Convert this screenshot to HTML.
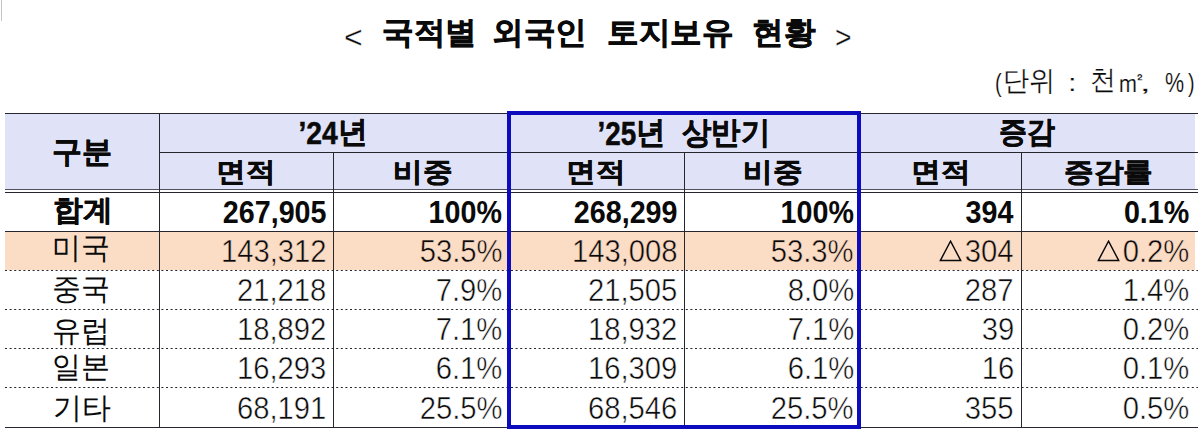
<!DOCTYPE html>
<html><head><meta charset="utf-8"><title>국적별 외국인 토지보유 현황</title><style>
html,body{margin:0;padding:0;background:#fff;}
body{width:1200px;height:442px;position:relative;overflow:hidden;font-family:"Liberation Sans",sans-serif;color:#0a0a0a;}
.t,.n{position:absolute;white-space:nowrap;line-height:1;}
.t{transform-origin:0 0;}
.n{transform-origin:100% 0;}
.dg{display:inline-block;transform:translateY(2.5px) scale(0.94,1.05);transform-origin:100% 100%;}
.n svg path{stroke:#0a0a0a;}
svg.bg{position:absolute;left:0;top:0;}
</style></head><body>
<svg class="bg" width="1200" height="442" viewBox="0 0 1200 442"><rect x="5" y="114" width="1190" height="75" fill="#e0e3f7"/><rect x="5" y="232" width="1190" height="38" fill="#fbddc6"/><rect x="5" y="113" width="1193" height="1" fill="#26262e"/><rect x="159" y="152" width="1039" height="1" fill="#26262e"/><rect x="5" y="189" width="1193" height="1" fill="#50505c"/><rect x="5" y="192" width="1193" height="1" fill="#26262e"/><rect x="5" y="231" width="1193" height="1" fill="#26262e"/><line x1="5" y1="270.5" x2="1198" y2="270.5" stroke="#26262e" stroke-width="1.2" stroke-dasharray="2 2.6"/><line x1="5" y1="309.5" x2="1198" y2="309.5" stroke="#26262e" stroke-width="1.2" stroke-dasharray="2 2.6"/><line x1="5" y1="348.5" x2="1198" y2="348.5" stroke="#26262e" stroke-width="1.2" stroke-dasharray="2 2.6"/><line x1="5" y1="387.5" x2="1198" y2="387.5" stroke="#26262e" stroke-width="1.2" stroke-dasharray="2 2.6"/><rect x="5" y="427" width="1193" height="1" fill="#26262e"/><rect x="159" y="113" width="1" height="315" fill="#26262e"/><rect x="333" y="152" width="1" height="276" fill="#26262e"/><rect x="684" y="152" width="1" height="276" fill="#26262e"/><rect x="1021" y="152" width="1" height="276" fill="#26262e"/><rect x="509" y="113" width="350" height="314" fill="none" stroke="#0c0cbe" stroke-width="4"/><rect x="1" y="0" width="1" height="21" fill="#c4c4c4"/></svg>
<div class="t" style="left:344.0px;top:21.4px;font-size:32.00px;-webkit-text-stroke:0.4px #fff;transform:scaleX(1.000)">&lt;</div>
<div class="t" style="left:382.0px;top:17.4px;font-size:31.10px;font-weight:bold;-webkit-text-stroke:0.6px #0a0a0a;transform:scaleX(1.019)">국적별</div>
<div class="t" style="left:492.0px;top:17.4px;font-size:31.10px;font-weight:bold;-webkit-text-stroke:0.6px #0a0a0a;transform:scaleX(1.019)">외국인</div>
<div class="t" style="left:607.0px;top:17.4px;font-size:31.10px;font-weight:bold;-webkit-text-stroke:0.6px #0a0a0a;transform:scaleX(1.019)">토지보유</div>
<div class="t" style="left:752.0px;top:17.4px;font-size:31.10px;font-weight:bold;-webkit-text-stroke:0.6px #0a0a0a;transform:scaleX(1.019)">현황</div>
<div class="t" style="left:835.0px;top:21.4px;font-size:32.00px;-webkit-text-stroke:0.4px #fff;transform:scaleX(0.883)">&gt;</div>
<div class="t" style="left:995.0px;top:70.5px;font-size:25.49px;-webkit-text-stroke:0.2px #fff;transform:scaleX(0.781)">(</div>
<div class="t" style="left:1003.0px;top:66.2px;font-size:28.43px;-webkit-text-stroke:0.2px #fff;transform:scaleX(0.935)">단위</div>
<div class="t" style="left:1068.0px;top:71.2px;font-size:24.24px;-webkit-text-stroke:0.2px #fff;transform:scaleX(1.272)">:</div>
<div class="t" style="left:1089.5px;top:67.2px;font-size:26.62px;-webkit-text-stroke:0.2px #fff;transform:scaleX(0.961)">천</div>
<div class="t" style="left:1114.5px;top:66.8px;font-size:30.33px;-webkit-text-stroke:0.2px #fff;transform:scaleX(1.086)">㎡</div>
<div class="t" style="left:1139.0px;top:75.2px;font-size:19.91px;-webkit-text-stroke:0.2px #fff;transform:scaleX(2.252)">,</div>
<div class="t" style="left:1165.0px;top:68.5px;font-size:27.58px;-webkit-text-stroke:0.2px #fff;transform:scaleX(0.779)">%</div>
<div class="t" style="left:1187.5px;top:70.5px;font-size:25.49px;-webkit-text-stroke:0.2px #fff;transform:scaleX(0.772)">)</div>
<div class="t" style="left:51.5px;top:136.8px;font-size:30.01px;font-weight:bold;-webkit-text-stroke:0.5px #0a0a0a;transform:scaleX(1.000)">구분</div>
<div class="t" style="left:296.2px;top:115.8px;font-size:30.40px;font-weight:bold;-webkit-text-stroke:0.5px #0a0a0a;transform:scaleX(0.989)"><span class="dg">’24</span>년</div>
<div class="t" style="left:595.4px;top:117.3px;font-size:31.29px;font-weight:bold;-webkit-text-stroke:0.5px #0a0a0a;transform:scaleX(0.946)"><span class="dg">’25</span>년&nbsp;&nbsp;상반기</div>
<div class="t" style="left:998.8px;top:116.8px;font-size:30.35px;font-weight:bold;-webkit-text-stroke:0.5px #0a0a0a;transform:scaleX(0.933)">증감</div>
<div class="t" style="left:216.2px;top:158.6px;font-size:27.06px;font-weight:bold;-webkit-text-stroke:0.5px #0a0a0a;transform:scaleX(1.097)">면적</div>
<div class="t" style="left:393.0px;top:158.6px;font-size:27.06px;font-weight:bold;-webkit-text-stroke:0.5px #0a0a0a;transform:scaleX(1.097)">비중</div>
<div class="t" style="left:565.6px;top:158.6px;font-size:27.06px;font-weight:bold;-webkit-text-stroke:0.5px #0a0a0a;transform:scaleX(1.097)">면적</div>
<div class="t" style="left:743.0px;top:158.6px;font-size:27.06px;font-weight:bold;-webkit-text-stroke:0.5px #0a0a0a;transform:scaleX(1.097)">비중</div>
<div class="t" style="left:910.6px;top:158.6px;font-size:27.06px;font-weight:bold;-webkit-text-stroke:0.5px #0a0a0a;transform:scaleX(1.097)">면적</div>
<div class="t" style="left:1064.0px;top:158.6px;font-size:27.06px;font-weight:bold;-webkit-text-stroke:0.5px #0a0a0a;transform:scaleX(1.097)">증감률</div>
<div class="t" style="left:52.6px;top:195.6px;font-size:29.17px;font-weight:bold;-webkit-text-stroke:0.35px #0a0a0a;transform:scaleX(1.027)">합계</div>
<div class="t" style="left:52.0px;top:233.3px;font-size:30.21px;transform:scaleX(0.965)">미국</div>
<div class="t" style="left:51.6px;top:274.4px;font-size:30.21px;transform:scaleX(0.965)">중국</div>
<div class="t" style="left:51.8px;top:316.4px;font-size:30.21px;transform:scaleX(0.965)">유럽</div>
<div class="t" style="left:52.0px;top:352.4px;font-size:30.21px;transform:scaleX(0.965)">일본</div>
<div class="t" style="left:53.0px;top:392.6px;font-size:30.21px;transform:scaleX(0.965)">기타</div>
<div class="n" style="right:873.2px;top:198.3px;font-size:30.85px;font-weight:bold;transform:scaleX(0.930)">267,905</div>
<div class="n" style="right:697.8px;top:198.3px;font-size:30.85px;font-weight:bold;transform:scaleX(0.930)">100%</div>
<div class="n" style="right:522.5px;top:198.3px;font-size:30.85px;font-weight:bold;transform:scaleX(0.930)">268,299</div>
<div class="n" style="right:346.2px;top:198.3px;font-size:30.85px;font-weight:bold;transform:scaleX(0.930)">100%</div>
<div class="n" style="right:186.2px;top:198.3px;font-size:30.85px;font-weight:bold;transform:scaleX(0.930)">394</div>
<div class="n" style="right:11.0px;top:198.3px;font-size:30.85px;font-weight:bold;transform:scaleX(0.930)">0.1%</div>
<div class="n" style="right:873.2px;top:237.0px;font-size:30.85px;-webkit-text-stroke:0.5px #fbddc6;transform:scaleX(0.947)">143,312</div>
<div class="n" style="right:697.8px;top:237.0px;font-size:30.85px;-webkit-text-stroke:0.5px #fbddc6;transform:scaleX(0.947)">53.5%</div>
<div class="n" style="right:522.5px;top:237.0px;font-size:30.85px;-webkit-text-stroke:0.5px #fbddc6;transform:scaleX(0.947)">143,008</div>
<div class="n" style="right:346.2px;top:237.0px;font-size:30.85px;-webkit-text-stroke:0.5px #fbddc6;transform:scaleX(0.947)">53.3%</div>
<div class="n" style="right:186.2px;top:237.0px;font-size:30.85px;-webkit-text-stroke:0.5px #fbddc6;transform:scaleX(0.947)"><svg width="24" height="22" viewBox="0 0 24 22" style="vertical-align:0;margin-right:3px"><path d="M12 1.2 L22.8 20.6 L1.2 20.6 Z" fill="none" stroke="#000" stroke-width="1.5"/></svg>304</div>
<div class="n" style="right:11.0px;top:237.0px;font-size:30.85px;-webkit-text-stroke:0.5px #fbddc6;transform:scaleX(0.947)"><svg width="24" height="22" viewBox="0 0 24 22" style="vertical-align:0;margin-right:3px"><path d="M12 1.2 L22.8 20.6 L1.2 20.6 Z" fill="none" stroke="#000" stroke-width="1.5"/></svg>0.2%</div>
<div class="n" style="right:873.2px;top:276.0px;font-size:30.85px;-webkit-text-stroke:0.5px #fff;transform:scaleX(0.947)">21,218</div>
<div class="n" style="right:697.8px;top:276.0px;font-size:30.85px;-webkit-text-stroke:0.5px #fff;transform:scaleX(0.947)">7.9%</div>
<div class="n" style="right:522.5px;top:276.0px;font-size:30.85px;-webkit-text-stroke:0.5px #fff;transform:scaleX(0.947)">21,505</div>
<div class="n" style="right:346.2px;top:276.0px;font-size:30.85px;-webkit-text-stroke:0.5px #fff;transform:scaleX(0.947)">8.0%</div>
<div class="n" style="right:186.2px;top:276.0px;font-size:30.85px;-webkit-text-stroke:0.5px #fff;transform:scaleX(0.947)">287</div>
<div class="n" style="right:11.0px;top:276.0px;font-size:30.85px;-webkit-text-stroke:0.5px #fff;transform:scaleX(0.947)">1.4%</div>
<div class="n" style="right:873.2px;top:315.0px;font-size:30.85px;-webkit-text-stroke:0.5px #fff;transform:scaleX(0.947)">18,892</div>
<div class="n" style="right:697.8px;top:315.0px;font-size:30.85px;-webkit-text-stroke:0.5px #fff;transform:scaleX(0.947)">7.1%</div>
<div class="n" style="right:522.5px;top:315.0px;font-size:30.85px;-webkit-text-stroke:0.5px #fff;transform:scaleX(0.947)">18,932</div>
<div class="n" style="right:346.2px;top:315.0px;font-size:30.85px;-webkit-text-stroke:0.5px #fff;transform:scaleX(0.947)">7.1%</div>
<div class="n" style="right:186.2px;top:315.0px;font-size:30.85px;-webkit-text-stroke:0.5px #fff;transform:scaleX(0.947)">39</div>
<div class="n" style="right:11.0px;top:315.0px;font-size:30.85px;-webkit-text-stroke:0.5px #fff;transform:scaleX(0.947)">0.2%</div>
<div class="n" style="right:873.2px;top:354.0px;font-size:30.85px;-webkit-text-stroke:0.5px #fff;transform:scaleX(0.947)">16,293</div>
<div class="n" style="right:697.8px;top:354.0px;font-size:30.85px;-webkit-text-stroke:0.5px #fff;transform:scaleX(0.947)">6.1%</div>
<div class="n" style="right:522.5px;top:354.0px;font-size:30.85px;-webkit-text-stroke:0.5px #fff;transform:scaleX(0.947)">16,309</div>
<div class="n" style="right:346.2px;top:354.0px;font-size:30.85px;-webkit-text-stroke:0.5px #fff;transform:scaleX(0.947)">6.1%</div>
<div class="n" style="right:186.2px;top:354.0px;font-size:30.85px;-webkit-text-stroke:0.5px #fff;transform:scaleX(0.947)">16</div>
<div class="n" style="right:11.0px;top:354.0px;font-size:30.85px;-webkit-text-stroke:0.5px #fff;transform:scaleX(0.947)">0.1%</div>
<div class="n" style="right:873.2px;top:393.5px;font-size:30.85px;-webkit-text-stroke:0.5px #fff;transform:scaleX(0.947)">68,191</div>
<div class="n" style="right:697.8px;top:393.5px;font-size:30.85px;-webkit-text-stroke:0.5px #fff;transform:scaleX(0.947)">25.5%</div>
<div class="n" style="right:522.5px;top:393.5px;font-size:30.85px;-webkit-text-stroke:0.5px #fff;transform:scaleX(0.947)">68,546</div>
<div class="n" style="right:346.2px;top:393.5px;font-size:30.85px;-webkit-text-stroke:0.5px #fff;transform:scaleX(0.947)">25.5%</div>
<div class="n" style="right:186.2px;top:393.5px;font-size:30.85px;-webkit-text-stroke:0.5px #fff;transform:scaleX(0.947)">355</div>
<div class="n" style="right:11.0px;top:393.5px;font-size:30.85px;-webkit-text-stroke:0.5px #fff;transform:scaleX(0.947)">0.5%</div>
</body></html>
